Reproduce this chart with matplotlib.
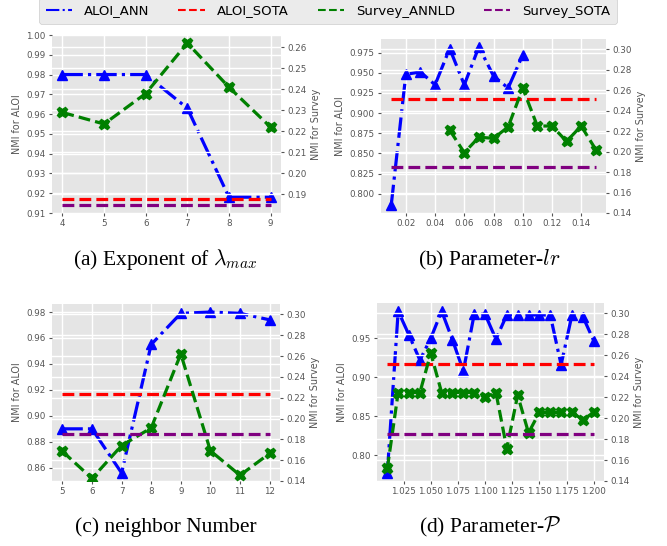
import matplotlib
matplotlib.use("Agg")
import matplotlib.pyplot as plt
from matplotlib.ticker import MultipleLocator, FormatStrFormatter
import numpy as np

plt.style.use('ggplot')
plt.rcParams['font.family'] = ['DejaVu Sans']
plt.rcParams['mathtext.fontset'] = 'cm'

# ---------------- data ----------------
# (a) Exponent of lambda_max
a_x = [4, 5, 6, 7, 8, 9]
a_aloi_ann = [0.980, 0.980, 0.980, 0.963, 0.918, 0.918]
a_survey_annld = [0.229, 0.2235, 0.238, 0.262, 0.241, 0.222]

# (b) Parameter-lr
b_x_ann = [0.01, 0.02, 0.03, 0.04, 0.05, 0.06, 0.07, 0.08, 0.09, 0.10]
b_aloi_ann = [0.786, 0.948, 0.951, 0.935, 0.980, 0.935, 0.982, 0.946, 0.931, 0.972]
b_x_annld = [0.05, 0.06, 0.07, 0.08, 0.09, 0.10, 0.11, 0.12, 0.13, 0.14, 0.15]
b_survey_annld = [0.221, 0.199, 0.214, 0.213, 0.224, 0.262, 0.225, 0.225, 0.210, 0.225, 0.202]
b_x_range = [0.01, 0.15]

# (c) neighbor Number
c_x = [5, 6, 7, 8, 9, 10, 11, 12]
c_aloi_ann = [0.890, 0.890, 0.856, 0.955, 0.979, 0.980, 0.979, 0.974]
c_survey_annld = [0.1685, 0.1425, 0.174, 0.191, 0.262, 0.169, 0.1455, 0.1665]

# (d) Parameter-P
d_x = [1.01, 1.02, 1.03, 1.04, 1.05, 1.06, 1.07, 1.08, 1.09, 1.10,
       1.11, 1.12, 1.13, 1.14, 1.15, 1.16, 1.17, 1.18, 1.19, 1.20]
d_aloi_ann = [0.777, 0.985, 0.954, 0.922, 0.950, 0.985, 0.948, 0.908, 0.981, 0.981,
              0.949, 0.980, 0.980, 0.980, 0.980, 0.980, 0.916, 0.980, 0.978, 0.947]
d_survey_annld = [0.152, 0.2245, 0.2245, 0.2245, 0.262, 0.2245, 0.2245, 0.2245, 0.2245, 0.220,
                  0.2245, 0.171, 0.222, 0.186, 0.2055, 0.2055, 0.2055, 0.2055, 0.1985, 0.2055]

aloi_sota = 0.917
survey_sota = 0.185

legend_labels = ['ALOI_ANN', 'ALOI_SOTA', 'Survey_ANNLD', 'Survey_SOTA']
captions = [r'(a) Exponent of $\lambda_{max}$', r'(b) Parameter-$lr$',
            '(c) neighbor Number', r'(d) Parameter-$\mathcal{P}$']

W, H = 667, 546
fig = plt.figure(figsize=(W / 100, H / 100), dpi=100)
fig.patch.set_facecolor('white')


def box(l, t, r, b):
    return [l / W, 1 - b / H, (r - l) / W, (b - t) / H]


LW = 2.3
MS = 7.5
TFS = 6.3
GRAY = '#555555'


def make_panel(rect, x_ann, y_ann, x_ld, y_ld, x_rng, left_lim=None, right_lim=None):
    ax = fig.add_axes(rect)
    ax2 = ax.twinx()
    l1, = ax.plot(x_ann, y_ann, color='blue', linestyle='-.', lw=LW, marker='^',
                  markersize=MS)
    l2, = ax.plot(x_rng, [aloi_sota] * len(x_rng), color='red', linestyle='--', lw=LW)
    l3, = ax2.plot(x_ld, y_ld, color='green', linestyle='--', lw=LW, marker='X',
                   markersize=MS)
    l4, = ax2.plot(x_rng, [survey_sota] * len(x_rng), color='purple', linestyle='--', lw=LW)
    if left_lim is not None:
        ax.set_ylim(*left_lim)
    if right_lim is not None:
        ax2.set_ylim(*right_lim)
    ax.set_ylabel('NMI for ALOI', fontsize=TFS + 0.6, color=GRAY, labelpad=3)
    ax2.set_ylabel('NMI for Survey', fontsize=TFS + 0.6, color=GRAY, labelpad=3)
    for a in (ax, ax2):
        a.tick_params(labelsize=TFS, colors=GRAY, length=2.5, pad=2)
        a.grid(True, color='white', lw=1.0)
        for s in a.spines.values():
            s.set_visible(False)
    return ax, ax2, [l1, l2, l3, l4]


axa, axa2, handles = make_panel(box(52, 35, 281, 213), a_x, a_aloi_ann, a_x, a_survey_annld,
                                [a_x[0], a_x[-1]], left_lim=(0.91, 1.00))
axa.set_xticks(a_x)

axb, axb2, _ = make_panel(box(381, 39, 606, 213), b_x_ann, b_aloi_ann, b_x_annld, b_survey_annld,
                          b_x_range, right_lim=(0.14, 0.31))

axc, axc2, _ = make_panel(box(52, 304, 280, 481), c_x, c_aloi_ann, c_x, c_survey_annld,
                          [c_x[0], c_x[-1]], right_lim=(0.14, 0.31))
axc.set_xticks(c_x)

axd, axd2, _ = make_panel(box(377, 303, 604, 481), d_x, d_aloi_ann, d_x, d_survey_annld,
                          [d_x[0], d_x[-1]], right_lim=(0.14, 0.31))
axd.xaxis.set_major_locator(MultipleLocator(0.025))
axd.xaxis.set_major_formatter(FormatStrFormatter('%.3f'))
axd.set_xlim(d_x[0] - 0.0095, d_x[-1] + 0.0095)

cap_pos = [(165, 260), (489, 260), (166, 527), (490, 527)]
for (cx, cy), txt in zip(cap_pos, captions):
    fig.text(cx / W, 1 - cy / H, txt, ha='center', va='center',
             fontsize=15.5, family='Liberation Serif', color='black')

leg = fig.legend(handles, legend_labels, loc='center', ncol=4,
                 bbox_to_anchor=(328 / W, 1 - 11 / H), fontsize=9.5,
                 handlelength=2.0, handletextpad=0.9, columnspacing=2.2,
                 frameon=True, fancybox=True, facecolor='#ebebeb', edgecolor='#cccccc',
                 framealpha=1.0, borderpad=0.5)
for lh in leg.get_lines():
    lh.set_linewidth(1.5)
    lh.set_marker('')

fig.savefig('out.png', dpi=100, facecolor='white')
